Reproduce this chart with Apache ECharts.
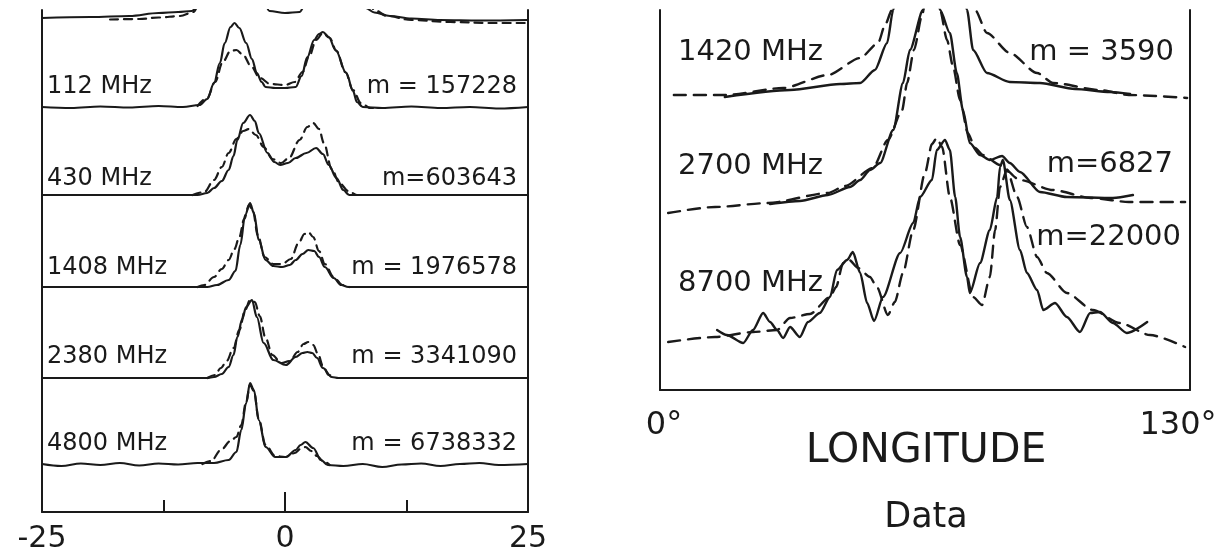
<!DOCTYPE html>
<html><head><meta charset="utf-8">
<script src="https://cdn.jsdelivr.net/npm/echarts/dist/echarts.min.js"></script>
<style>html,body{margin:0;padding:0;background:#fff}#c{width:1230px;height:556px}</style>
</head><body><div id="c"></div>
<script>
// ---------------- LEFT PANEL DATA (offset -25..25, intensity above each baseline) ----------------
const leftTicks = ['-25', '0', '25'];
const leftLabels = ['112 MHz', '430 MHz', '1408 MHz', '2380 MHz', '4800 MHz'];
const leftMasses = ['m = 157228', 'm=603643', 'm = 1976578', 'm = 3341090', 'm = 6738332'];
// baselines: [partial profile above, 112, 430, 1408, 2380, 4800]
const leftBaselines = [49.0, 40.4, 31.7, 22.5, 13.4, 4.7];

const topObs = [[-25,0.4],[-20,0.5],[-16,0.6],[-13,0.9],[-11,1.0],[-9.6,1.1],[-8.9,1.6],[-8.2,4],[-6.5,8],[-5,9.5],[-3.5,7],[-2.5,3],[-1.6,1.1],[0,0.9],[1.5,1.0],[2.4,2.5],[3.5,8],[5.5,8],[7.2,4],[8.3,1.4],[9.2,0.95],[10.8,0.6],[13,0.35],[16,0.2],[20,0.15],[25,0.2]];
const topMod = [[-18,0.25],[-15,0.3],[-13,0.45],[-10.8,0.6],[-9.4,1.0],[-8.6,2.5],[-7.5,6],[-5,9.5],[0,1.8],[4,9],[7,6],[8.4,2.5],[9.2,1.2],[10.5,0.6],[13,0.2],[17,0],[21,-0.1],[25,-0.1]];

const p112Obs = [[-25,0.1],[-22,0],[-19,0.15],[-16,0.05],[-13,0.2],[-10.5,0.1],[-8.8,0.3],[-8,0.9],[-7.3,2.5],[-6.7,4.5],[-6.2,6.5],[-5.6,8.1],[-5.2,8.5],[-4.7,8.0],[-4.0,6.5],[-3.4,4.9],[-2.9,3.5],[-2.4,2.6],[-2.0,2.1],[-1,2.0],[0,2.0],[1.1,2.1],[1.7,3.2],[2.3,5.1],[3.0,6.8],[3.5,7.4],[3.9,7.6],[4.5,7.1],[5.2,5.8],[6.3,3.5],[7.0,1.7],[7.4,0.6],[8,0.1],[10,0],[13,0.15],[16,0],[19,0.1],[22,-0.05],[25,0.1]];
const p112Mod = [[-9,0.2],[-8,1.0],[-7.2,2.6],[-6.4,4.6],[-5.6,5.7],[-5.0,5.8],[-4.3,5.3],[-3.5,4.2],[-2.6,3.0],[-1.5,2.4],[0,2.3],[1,2.6],[1.8,3.6],[2.5,5.2],[3.2,6.8],[3.9,7.5],[4.6,7.0],[5.3,5.7],[6.2,3.6],[7.0,1.8],[7.8,0.5],[8.8,0],[9.5,0]];

const p430Obs = [[-25,0],[-9,0],[-8,0.2],[-7.3,0.7],[-6.5,1.4],[-5.8,2.5],[-5.3,3.9],[-4.9,5.5],[-4.3,7.2],[-3.6,8.0],[-3.1,7.4],[-2.7,6.2],[-1.8,4.2],[-1.1,3.3],[-0.5,3.0],[0.3,3.2],[1.1,3.7],[2.2,4.2],[3.2,4.7],[3.9,4.1],[4.5,3.0],[5.3,1.7],[6.0,0.5],[6.6,0],[25,0]];
const p430Mod = [[-9.5,0],[-8.3,0.3],[-7.3,1.5],[-6.5,2.8],[-5.8,4.2],[-5,5.6],[-4.3,6.4],[-3.7,6.6],[-3.0,6.0],[-2.2,4.8],[-1.3,3.6],[-0.4,3.2],[0.4,3.7],[1.5,5.5],[2.3,6.8],[2.9,7.2],[3.5,6.6],[4.0,5.2],[4.8,2.6],[5.6,1.2],[6.5,0.4],[7.4,0],[8,0]];

const p1408Obs = [[-25,0],[-8,0],[-7,0.2],[-5.8,0.7],[-5.1,1.6],[-4.6,4.2],[-4.1,7.2],[-3.6,8.4],[-3.2,7.4],[-2.7,4.7],[-2.0,2.7],[-1.2,2.1],[-0.3,2.0],[0.5,2.2],[1.1,2.7],[1.8,3.3],[2.4,3.7],[3.0,3.6],[3.5,3.0],[4.1,2.0],[5.0,0.9],[5.8,0.2],[6.5,0],[25,0]];
const p1408Mod = [[-9,0],[-8.3,0.2],[-7.3,1.0],[-6.5,1.8],[-5.8,2.7],[-5.2,3.8],[-4.7,5.0],[-4.2,6.8],[-3.7,8.2],[-3.3,7.6],[-2.8,5.2],[-2.1,3.0],[-1.2,2.3],[-0.3,2.3],[0.6,2.8],[1.4,4.4],[2.0,5.3],[2.4,5.5],[2.9,5.0],[3.5,3.6],[4.1,2.3],[5,1.0],[5.9,0.2],[6.6,0]];

const p2380Obs = [[-25,0],[-8,0],[-7.3,0.1],[-6.5,0.4],[-5.8,1.1],[-5.3,2.3],[-4.9,4.1],[-4.4,5.9],[-4.0,7.1],[-3.4,7.8],[-2.9,6.1],[-2.2,3.5],[-1.2,1.8],[0.1,1.3],[1.1,2.1],[1.8,2.5],[2.3,2.6],[2.8,2.5],[3.3,2.0],[3.9,1.0],[4.8,0.1],[5.5,0],[25,0]];
const p2380Mod = [[-8,0],[-7.2,0.3],[-6.6,1.0],[-6.0,1.7],[-5.3,3.0],[-4.7,4.8],[-4.1,6.8],[-3.6,7.8],[-3.1,7.6],[-2.6,6.2],[-2.0,4.0],[-1.3,2.3],[-0.4,1.5],[0.5,1.7],[1.3,2.6],[1.9,3.4],[2.4,3.6],[2.9,3.3],[3.4,2.4],[3.9,1.2],[4.5,0.3],[5.2,0]];

const p4800Obs = [[-25,0.1],[-23,-0.1],[-21,0.15],[-19,0],[-17,0.2],[-15,-0.05],[-13,0.15],[-11,0.05],[-9,0.2],[-7.3,0.2],[-5.8,0.5],[-5.0,1.3],[-4.5,3.5],[-4.0,6.2],[-3.6,8.2],[-3.2,7.5],[-2.7,4.5],[-2.0,1.8],[-1.0,0.8],[0.1,0.8],[1.1,1.5],[1.6,2.0],[2.1,2.3],[2.9,1.7],[3.7,0.5],[4.4,0],[6,-0.1],[8,0.1],[10,-0.2],[12,0.05],[14,0.15],[16,-0.1],[18,0.1],[20,0.2],[22,0],[25,0.1]];
const p4800Mod = [[-8.5,0.1],[-7.6,0.4],[-6.6,1.5],[-5.6,2.4],[-5.0,2.8],[-4.5,4.0],[-4.0,6.3],[-3.6,8.0],[-3.2,7.4],[-2.7,4.6],[-2.0,2.0],[-1.0,0.9],[0,0.8],[1.0,1.2],[1.6,1.6],[2.1,1.8],[2.7,1.4],[3.3,0.9],[3.9,0.4],[4.6,0]];

// ---------------- RIGHT PANEL DATA (longitude 0..130 deg) ----------------
const rightTicks = ['0°', '130°'];
const rightLabels = ['1420 MHz', '2700 MHz', '8700 MHz'];
const rightMasses = ['m = 3590', 'm=6827', 'm=22000'];
const rightBaselines = [29.5, 17.7, 4.8];

const r1420Obs = [[15.9,-0.2],[31.9,0.5],[44.2,1.1],[49.1,1.2],[52.7,2.5],[55.7,5.2],[57.2,8.5],[58.9,13.5],[61.8,20],[66.2,24],[70.6,20],[73.6,13.5],[75.3,8.5],[76.8,4.5],[80.2,2.2],[85.8,1.3],[93.2,1.2],[101.8,0.6],[110.4,0.3],[115.3,0.1]];
const r1420Mod = [[3.4,0],[16.2,0],[30.2,0.7],[41.2,2.0],[49.1,3.7],[53.5,5.2],[55.2,7.0],[56.9,8.5],[58.9,13],[66.2,24],[75.5,13],[77.3,8.5],[80.2,6.2],[85.8,4.2],[92.5,2.2],[96.4,1.2],[107.9,0.5],[115.0,0],[129.3,-0.3]];

const r2700Obs = [[27.0,0.9],[34.3,1.2],[41.2,1.8],[46.6,2.6],[49.1,3.3],[51.5,4.3],[54.0,5.0],[57.2,8.3],[59.6,13.0],[61.3,16.3],[64.5,20.3],[66.7,26],[68.7,20.3],[71.1,18.0],[72.8,14.0],[74.3,10.3],[76.0,7.0],[78.5,5.8],[80.9,5.3],[83.9,5.7],[85.8,5.0],[88.3,4.1],[93.2,2.1],[99.8,1.6],[111.1,1.5],[116.0,1.8]];
const r2700Mod = [[2.0,0],[13.5,0.6],[26.5,1.0],[41.2,2.0],[45.4,2.7],[52.2,4.5],[55.9,7.3],[59.4,10.3],[60.6,13.0],[62.3,16.3],[64.3,19.8],[66.7,28],[68.7,20.3],[70.4,17.3],[71.9,14.6],[73.6,11.3],[75.5,8.0],[77.3,6.5],[79.2,5.8],[83.4,4.8],[88.3,3.3],[96.4,2.3],[105.7,1.5],[115.0,1.1],[128.8,1.1]];

const r8700Obs = [[14.0,1.2],[16.4,0.7],[20.4,-0.1],[22.8,1.2],[25.3,2.9],[27.0,2.0],[28.7,1.2],[30.2,0.4],[31.9,1.5],[34.3,0.5],[36.3,2.0],[39.2,2.9],[41.7,4.5],[43.4,7.2],[45.9,8.2],[47.3,9.0],[49.1,6.9],[50.8,3.9],[52.5,2.1],[54.7,4.5],[58.9,8.9],[62.1,11.9],[63.8,14.5],[66.7,16.2],[67.9,19.2],[69.9,20.2],[71.1,19.2],[72.4,14.5],[73.6,10.5],[75.3,6.5],[76.0,4.9],[78.5,7.9],[80.9,11.2],[82.7,14.5],[83.4,17.5],[84.1,18.2],[85.8,14.2],[88.3,9.2],[90.0,6.9],[92.5,5.2],[94.0,3.2],[96.9,3.9],[99.8,2.5],[103.0,1.0],[105.5,2.9],[107.9,3.0],[111.1,1.9],[114.5,0.9],[119.5,2.0]];
const r8700Mod = [[2.0,0],[13.5,0.5],[22.8,1.0],[28.7,1.2],[31.9,2.4],[36.8,2.8],[41.7,4.5],[43.2,5.5],[44.9,7.9],[46.4,8.2],[48.6,7.4],[51.5,6.5],[53.2,5.5],[55.9,2.7],[57.6,4.0],[59.6,6.9],[62.1,11.2],[65.0,16.9],[66.7,19.8],[67.9,20.4],[69.2,19.5],[71.1,14.5],[73.6,9.7],[76.8,4.5],[79.0,3.7],[80.9,6.5],[82.2,11.2],[83.4,15.5],[85.1,17.2],[87.6,14.5],[90.0,11.5],[92.5,8.5],[94.9,6.9],[99.8,4.9],[106.2,3.2],[112.8,1.9],[120.2,0.7],[128.8,-0.5]];

// ---------------- BUILD ----------------
const INK = '#1a1a1a';
const FONT = 'DejaVu Sans';
const lift = (arr, base) => arr.map(p => [p[0], p[1] + base]);

const leftObs = [topObs, p112Obs, p430Obs, p1408Obs, p2380Obs, p4800Obs];
const leftMod = [topMod, p112Mod, p430Mod, p1408Mod, p2380Mod, p4800Mod];
const rightObs = [r1420Obs, r2700Obs, r8700Obs];
const rightMod = [r1420Mod, r2700Mod, r8700Mod];

function lineSeries(data, xi, yi, dashed, width, smooth) {
  return {
    type: 'line', xAxisIndex: xi, yAxisIndex: yi, data: data,
    symbol: 'none', showSymbol: false, smooth: smooth, smoothMonotone: 'x',
    silent: true, clip: true, animation: false,
    lineStyle: { color: INK, width: width, type: dashed ? dashed : 'solid', cap: 'round', join: 'round' }
  };
}

const series = [];
leftObs.forEach((d, i) => series.push(lineSeries(lift(d, leftBaselines[i]), 0, 0, null, 2.2, 0.35)));
leftMod.forEach((d, i) => series.push(lineSeries(lift(d, leftBaselines[i]), 0, 0, [8, 6], 2.2, 0.35)));
rightObs.forEach((d, i) => series.push(lineSeries(lift(d, rightBaselines[i]), 2, 2, null, 2.4, 0.25)));
rightMod.forEach((d, i) => series.push(lineSeries(lift(d, rightBaselines[i]), 2, 2, [12, 8], 2.4, 0.25)));

const axisLineStyle = { show: true, onZero: false, lineStyle: { color: INK, width: 2 } };
const leftLabelY = [87, 179, 268, 357, 444];
const rightLabelY = [52, 166, 283];
const rightMassY = [52, 164, 237];
const rightMassX = [1174, 1173, 1181];

const graphics = [];
function txt(text, x, y, size, align) {
  graphics.push({ type: 'text', x: x, y: y, silent: true,
    style: { text: text, fill: INK, font: size + 'px "' + FONT + '"', align: align, textAlign: align, verticalAlign: 'middle', textVerticalAlign: 'middle' } });
}
leftLabels.forEach((t, i) => txt(t, 47, leftLabelY[i], 24, 'left'));
leftMasses.forEach((t, i) => txt(t, 517, leftLabelY[i], 24, 'right'));
rightLabels.forEach((t, i) => txt(t, 678, rightLabelY[i], 29, 'left'));
rightMasses.forEach((t, i) => txt(t, rightMassX[i], rightMassY[i], 29, 'right'));
txt('LONGITUDE', 926, 451, 41, 'center');
txt('Data', 926, 518, 35, 'center');

const chart = echarts.init(document.getElementById('c'), null, { renderer: 'canvas' });
chart.setOption({
  backgroundColor: '#ffffff',
  animation: false,
  grid: [
    { left: 42, top: 10, width: 486, height: 502 },
    { left: 660, top: 10, width: 530, height: 380 }
  ],
  xAxis: [
    { type: 'value', gridIndex: 0, min: -25, max: 25, interval: 12.5, position: 'bottom',
      axisLine: axisLineStyle, splitLine: { show: false },
      axisTick: { show: true, inside: true, length: 12, lineStyle: { color: INK, width: 2 } },
      axisLabel: { show: true, margin: 12, color: INK, fontSize: 30, fontFamily: FONT,
        formatter: v => (v === -25 ? leftTicks[0] : v === 0 ? leftTicks[1] : v === 25 ? leftTicks[2] : '') } },
    { type: 'value', gridIndex: 0, min: -25, max: 25, interval: 25, position: 'bottom',
      axisLine: { show: false, onZero: false }, splitLine: { show: false }, axisLabel: { show: false },
      axisTick: { show: true, inside: true, length: 20, lineStyle: { color: INK, width: 2 } } },
    { type: 'value', gridIndex: 1, min: 0, max: 130, interval: 130, position: 'bottom',
      axisLine: axisLineStyle, splitLine: { show: false }, axisTick: { show: false },
      axisLabel: { show: true, margin: 20, color: INK, fontSize: 32, fontFamily: FONT,
        formatter: v => (v === 0 ? '{a|' + rightTicks[0] + '}' : '{b|' + rightTicks[1] + '}'),
        rich: { a: { fontSize: 32, fontFamily: FONT, color: INK, padding: [0, 0, 0, 8] },
                b: { fontSize: 32, fontFamily: FONT, color: INK, padding: [0, 24, 0, 0] } } } }
  ],
  yAxis: [
    { type: 'value', gridIndex: 0, min: 0, max: 50.2, position: 'left', axisLine: axisLineStyle,
      axisTick: { show: false }, axisLabel: { show: false }, splitLine: { show: false } },
    { type: 'value', gridIndex: 0, min: 0, max: 50.2, position: 'right', axisLine: axisLineStyle,
      axisTick: { show: false }, axisLabel: { show: false }, splitLine: { show: false } },
    { type: 'value', gridIndex: 1, min: 0, max: 38, position: 'left', axisLine: axisLineStyle,
      axisTick: { show: false }, axisLabel: { show: false }, splitLine: { show: false } },
    { type: 'value', gridIndex: 1, min: 0, max: 38, position: 'right', axisLine: axisLineStyle,
      axisTick: { show: false }, axisLabel: { show: false }, splitLine: { show: false } }
  ],
  series: series,
  graphic: graphics
});
</script></body></html>
